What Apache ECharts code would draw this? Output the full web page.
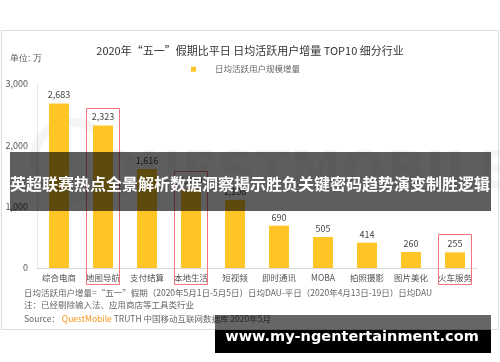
<!DOCTYPE html>
<html><head><meta charset="utf-8">
<script src="https://cdn.jsdelivr.net/npm/echarts@6/dist/echarts.min.js"></script>
<style>html,body{margin:0;padding:0;background:#fff}#c{width:500px;height:362px}</style>
</head><body><div id="c"></div>
<script>
var categories = ['综合电商','地图导航','支付结算','本地生活','短视频','即时通讯','MOBA','拍照摄影','图片美化','火车服务'];
var values = [2683, 2323, 1616, 1280, 1108, 690, 505, 414, 260, 255];
var highlighted = ['地图导航','本地生活','火车服务'];
var yTicks = [0, 1000, 2000, 3000];
var seriesName = '日均活跃用户规模增量';
var titleText = '2020年“五一”假期比平日 日均活跃用户增量 TOP10 细分行业';
var unitText = '单位: 万';
var note1 = '日均活跃用户增量=“五一”假期（2020年5月1日-5月5日）日均DAU-平日（2020年4月13日-19日）日均DAU';
var note2 = '注：已经剔除输入法、应用商店等工具类行业';
var bannerText = '英超联赛热点全景解析数据洞察揭示胜负关键密码趋势演变制胜逻辑';
var siteText = 'www.my-ngentertainment.com';

var FONT = '"Noto Sans CJK SC", "Noto Sans", sans-serif';
var chart = echarts.init(document.getElementById('c'), null, {renderer: 'canvas'});
var option = {
  animation: false,
  textStyle: {fontFamily: FONT},
  title: {text: titleText, left: 'center', top: 40, textStyle: {fontSize: 11, fontWeight: 'normal', color: '#333', fontFamily: FONT}},
  legend: {data: [seriesName], top: 60, left: 186, itemWidth: 5, itemHeight: 5, itemGap: 18, icon: 'rect',
    textStyle: {fontSize: 8.5, color: '#666', padding: [0,0,0,14]}},
  grid: {left: 37, right: 23, top: 84, bottom: 94},
  xAxis: {type: 'category', data: categories,
    axisLine: {lineStyle: {color: '#d9d9d9'}}, axisTick: {show: false},
    axisLabel: {fontSize: 8.5, color: '#555', margin: 6, interval: 0}},
  yAxis: {type: 'value', min: yTicks[0], max: yTicks[yTicks.length-1], interval: 1000,
    axisLine: {show: true, lineStyle: {color: '#e6e6e6'}}, splitLine: {show: false}, axisTick: {show: false},
    axisLabel: {fontSize: 9, color: '#555', margin: 9, formatter: function(v){return v.toLocaleString('en-US');}}},
  series: [{name: seriesName, type: 'bar', data: values, barWidth: 20,
    itemStyle: {color: '#FFC526'},
    label: {show: true, position: 'top', fontSize: 9, color: '#444', distance: 4,
      formatter: function(p){return p.value.toLocaleString('en-US');}}}]
};
chart.setOption(option);

var g = [];
g.push({type:'rect', z: 0, shape:{x:1.5, y:30.5, width:497, height:299}, style:{fill:'none', stroke:'#dcdcdc', lineWidth:1}});
g.push({type:'text', left: 10, top: 54, style:{text: unitText, fontSize: 8.5, fill:'#555', font: '8.5px ' + FONT}});
g.push({type:'text', z: 1, left: 95, top: 148, style:{text:'QUESTMOBILE', font:'bold 52px "DejaVu Sans"', fill:'rgba(0,0,0,0.04)'}});
g.push({type:'circle', z: 1, shape:{cx:72, cy:160, r:38}, style:{fill:'none', stroke:'rgba(0,0,0,0.04)', lineWidth:9}});
highlighted.forEach(function(name){
  var idx = categories.indexOf(name);
  var top = chart.convertToPixel({xAxisIndex:0, yAxisIndex:0}, [idx, values[idx]]);
  var base = chart.convertToPixel({xAxisIndex:0, yAxisIndex:0}, [idx, 0]);
  var y0 = Math.round(top[1]) - 17.5;
  g.push({type:'rect', z: 5, shape:{x: Math.round(top[0]) - 16.5, y: y0, width: 33, height: Math.round(base[1]) + 16.5 - y0},
    style:{fill:'none', stroke:'#f2737c', lineWidth:1}});
});
g.push({type:'text', left: 24, top: 289, style:{text: note1, font: '8.5px ' + FONT, fill:'#666'}});
g.push({type:'text', left: 24, top: 301, style:{text: note2, font: '8.5px ' + FONT, fill:'#666'}});
g.push({type:'text', left: 24, top: 315, style:{
  text: '{a|Source： }{b|QuestMobile}{a| TRUTH 中国移动互联网数据库 2020年5月}',
  rich: {a:{font:'8.5px ' + FONT, fill:'#666'}, b:{font:'8.5px ' + FONT, fill:'#F7941D'}}}});
g.push({type:'rect', z: 10, shape:{x:10, y:152, width:481, height:59}, style:{fill:'rgba(0,0,0,0.63)'}});
g.push({type:'text', z: 11, x: 250, y: 184, style:{text: bannerText, font:'bold 16px ' + FONT, fill:'#fff', textAlign:'center', textVerticalAlign:'middle'}});
g.push({type:'rect', z: 10, shape:{x:215, y:315, width:276, height:15}, style:{fill:'rgba(0,0,0,0.6)'}});
g.push({type:'rect', z: 10, shape:{x:215, y:330, width:276, height:23}, style:{fill:'#000'}});
g.push({type:'text', z: 11, x: 352, y: 337, style:{text: siteText, font:'bold 14.5px "DejaVu Sans"', fill:'#fff', textAlign:'center', textVerticalAlign:'middle'}});
chart.setOption({graphic: g});
</script></body></html>
